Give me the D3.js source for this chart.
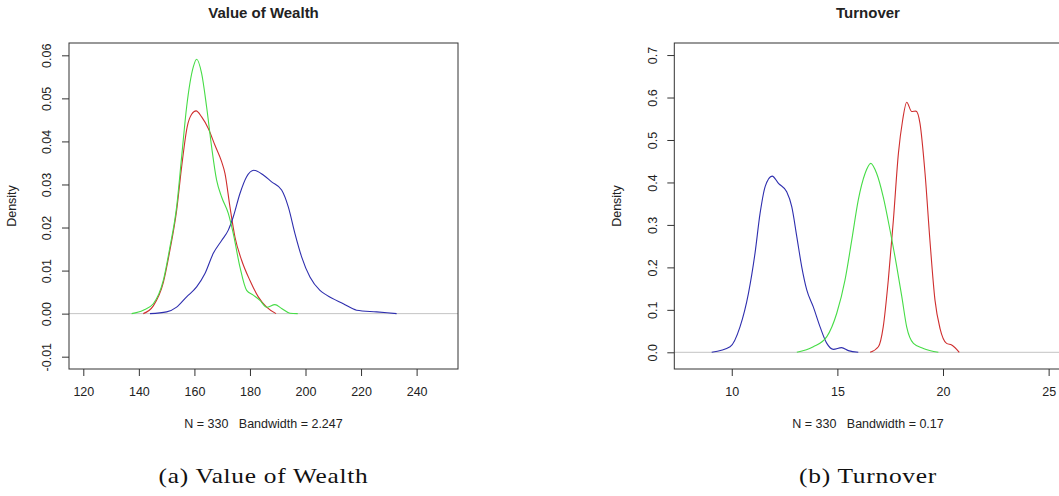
<!DOCTYPE html>
<html>
<head>
<meta charset="utf-8">
<script src="https://cdn.jsdelivr.net/npm/d3@7"></script>
<style>
  body { margin: 0; background: #fff; }
  svg { display: block; }
  text { font-family: "Liberation Sans", Arial, sans-serif; fill: #222; white-space: pre; }
  .caption { font-family: "Liberation Serif", "DejaVu Serif", serif; font-size: 21px; letter-spacing: 0.6px; fill: #111; }
</style>
</head>
<body>
<script>
// density curves, [value, density]
var wealthRed = [[141.6,0],[145.2,0.0018],[148.8,0.0072],[151.2,0.0148],[153.6,0.024],[155.4,0.0341],[157.4,0.0434],[159,0.0463],[160.6,0.0471],[162.6,0.0457],[165,0.043],[167.4,0.0391],[169.8,0.0353],[171,0.0326],[172.8,0.0248],[174.6,0.0178],[177,0.0124],[180,0.0077],[183,0.0039],[186,0.0015],[189.4,0]];
var wealthGreen = [[137.4,0],[141.6,0.0008],[145.2,0.0023],[148.8,0.0077],[151.2,0.0155],[153.6,0.0248],[155.4,0.0364],[157.2,0.048],[159.6,0.0573],[160.8,0.0591],[162.6,0.0558],[164.4,0.048],[166.2,0.0387],[168,0.031],[169.8,0.0271],[172.2,0.0233],[174,0.0186],[176.4,0.0108],[178.8,0.0054],[181.2,0.0043],[183.6,0.0031],[186,0.0015],[189,0.0021],[191.4,0.0012],[194.4,0.0001],[197.2,0]];
var wealthBlue = [[144,0],[150,0.0004],[153.6,0.0015],[157.2,0.0039],[160.8,0.0062],[163.8,0.0093],[166.8,0.014],[169.8,0.017],[172.2,0.0194],[174,0.0225],[176.4,0.0279],[178.8,0.0318],[181.4,0.0333],[184.8,0.0322],[187.8,0.0306],[191.4,0.0287],[193.8,0.0248],[196.2,0.0186],[198.6,0.0132],[201.6,0.0085],[205.2,0.0054],[207.6,0.0043],[213.6,0.0023],[218.4,0.0008],[225.6,0.0004],[232.8,0]];

var turnRed = [[16.55,0],[16.94,0.013],[17.17,0.06],[17.41,0.17],[17.65,0.311],[17.89,0.469],[18.09,0.547],[18.28,0.589],[18.52,0.567],[18.72,0.568],[18.91,0.539],[19.15,0.421],[19.38,0.264],[19.62,0.123],[19.86,0.056],[20.17,0.021],[20.41,0.017],[20.77,0]];
var turnGreen = [[13.08,0],[13.86,0.013],[14.5,0.037],[14.97,0.092],[15.36,0.17],[15.68,0.264],[15.99,0.359],[16.31,0.421],[16.58,0.445],[16.86,0.421],[17.17,0.366],[17.49,0.288],[17.81,0.202],[18.05,0.131],[18.28,0.06],[18.6,0.021],[19.07,0.009],[19.78,0]];
var turnBlue = [[9.05,0],[9.92,0.013],[10.39,0.06],[10.79,0.139],[11.1,0.233],[11.34,0.327],[11.58,0.39],[11.91,0.415],[12.21,0.398],[12.6,0.378],[12.84,0.343],[13.08,0.272],[13.31,0.202],[13.55,0.147],[13.86,0.107],[14.18,0.06],[14.5,0.021],[14.81,0.007],[15.2,0.011],[15.52,0.004],[15.99,0]];

var wealthXTicks = [120, 140, 160, 180, 200, 220, 240];
var wealthYTicks = [-0.01, 0, 0.01, 0.02, 0.03, 0.04, 0.05, 0.06];
var turnXTicks = [10, 15, 20, 25];
var turnYTicks = [0, 0.1, 0.2, 0.3, 0.4, 0.5, 0.6, 0.7];

var colors = { red: "#cf2e2e", green: "#46dc46", blue: "#2e2eae" };

var width = 1059, height = 496;
var svg = d3.select('body').append('svg')
  .attr('width', width)
  .attr('height', height);

// R prints a plain hyphen for negatives, not the unicode minus
function rFormat(spec) {
  var f = d3.format(spec);
  return function(d) { return f(d).replace('\u2212', '-'); };
}

function panel(opt) {
  var x = d3.scaleLinear().domain(opt.xDomain).range([opt.left, opt.right]);
  var y = d3.scaleLinear().domain(opt.yDomain).range([369, 43]);
  var g = svg.append('g');

  // title, sub and caption
  g.append('text').attr('x', opt.center).attr('y', 18)
    .attr('text-anchor', 'middle').style('font-weight', 'bold').style('font-size', '15px')
    .text(opt.title);
  g.append('text').attr('x', opt.center).attr('y', 428)
    .attr('text-anchor', 'middle').style('font-size', '12.5px')
    .text(opt.sub);
  g.append('text').attr('class', 'caption').attr('x', opt.center).attr('y', 483)
    .attr('text-anchor', 'middle')
    .attr('textLength', opt.captionWidth).attr('lengthAdjust', 'spacingAndGlyphs')
    .text(opt.caption);
  g.append('text')
    .attr('transform', 'translate(' + (opt.left - 53) + ',206) rotate(-90)')
    .attr('text-anchor', 'middle').style('font-size', '12.5px')
    .text('Density');

  // x axis
  var xa = g.append('g').attr('transform', 'translate(0,369)')
    .call(d3.axisBottom(x).tickValues(opt.xTicks).tickSize(7).tickPadding(11).tickSizeOuter(0));
  xa.select('.domain').remove();
  xa.selectAll('line').attr('stroke', '#333');
  xa.selectAll('text').style('font-size', '12.5px').style('font-family', '"Liberation Sans", Arial, sans-serif').attr('fill', '#222');

  // y axis with rotated labels like R
  var ya = g.append('g').attr('transform', 'translate(' + opt.left + ',0)')
    .call(d3.axisLeft(y).tickValues(opt.yTicks).tickSize(7).tickFormat(opt.yFormat).tickSizeOuter(0));
  ya.select('.domain').remove();
  ya.selectAll('line').attr('stroke', '#333');
  ya.selectAll('text')
    .attr('x', null)
    .attr('transform', 'translate(-22,0) rotate(-90)')
    .attr('text-anchor', 'middle')
    .attr('dy', '0.35em')
    .style('font-size', '12.5px').style('font-family', '"Liberation Sans", Arial, sans-serif').attr('fill', '#222');

  // zero line
  g.append('line')
    .attr('x1', opt.left).attr('x2', opt.right)
    .attr('y1', y(0)).attr('y2', y(0))
    .attr('stroke', '#c4c4c4').attr('stroke-width', 1);

  var line = d3.line()
    .x(function(d) { return x(d[0]); })
    .y(function(d) { return y(d[1]); })
    .curve(d3.curveMonotoneX);

  opt.series.forEach(function(s) {
    g.append('path').datum(s.data)
      .attr('fill', 'none')
      .attr('stroke', s.color)
      .attr('stroke-width', 1.1)
      .attr('d', line);
  });

  // box
  g.append('rect')
    .attr('x', opt.left).attr('y', 43)
    .attr('width', opt.right - opt.left).attr('height', 369 - 43)
    .attr('fill', 'none').attr('stroke', '#333').attr('stroke-width', 1);
}

panel({
  title: 'Value of Wealth', sub: 'N = 330   Bandwidth = 2.247', caption: '(a) Value of Wealth', captionWidth: 210,
  left: 69, right: 458, center: 263.5,
  xDomain: [114.85, 254.9], yDomain: [-0.01286, 0.06286],
  xTicks: wealthXTicks, yTicks: wealthYTicks, yFormat: rFormat('.2f'),
  series: [
    { data: wealthRed, color: colors.red },
    { data: wealthBlue, color: colors.blue },
    { data: wealthGreen, color: colors.green }
  ]
});

panel({
  title: 'Turnover', sub: 'N = 330   Bandwidth = 0.17', caption: '(b) Turnover', captionWidth: 138,
  left: 674.3, right: 1063, center: 868,
  xDomain: [7.28, 25.68], yDomain: [-0.0393, 0.7284],
  xTicks: turnXTicks, yTicks: turnYTicks, yFormat: rFormat('.1f'),
  series: [
    { data: turnRed, color: colors.red },
    { data: turnBlue, color: colors.blue },
    { data: turnGreen, color: colors.green }
  ]
});
</script>
</body>
</html>
